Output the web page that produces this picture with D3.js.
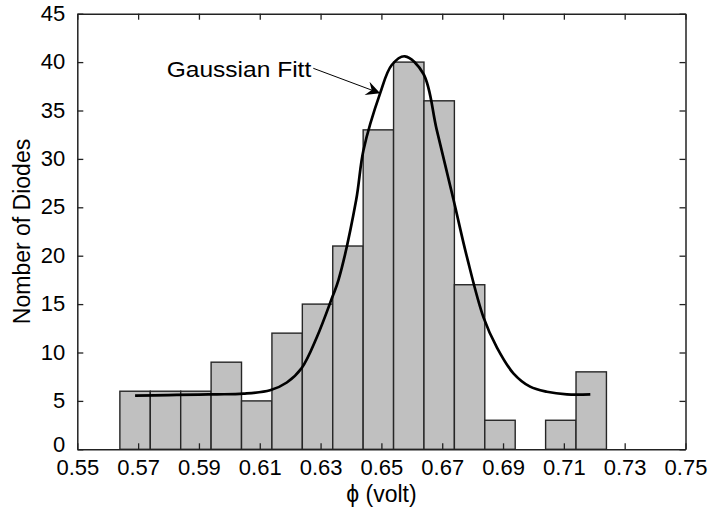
<!DOCTYPE html>
<html>
<head>
<meta charset="utf-8">
<script src="https://cdn.jsdelivr.net/npm/d3@7/dist/d3.min.js"></script>
<style>
  html, body { margin: 0; padding: 0; background: #fff; }
  svg { display: block; }
  text { font-family: "Liberation Sans", Arial, Helvetica, sans-serif; fill: #000; }
</style>
</head>
<body>
<svg id="chart" width="709" height="511"></svg>
<script>
// ---- data ----
const binStarts = [0.564, 0.574, 0.584, 0.594, 0.604, 0.614, 0.624, 0.634,
                   0.644, 0.654, 0.664, 0.674, 0.684, 0.694, 0.704, 0.714];
const binCounts = [6, 6, 6, 9, 5, 12, 15, 21, 33, 40, 36, 17, 3, 0, 3, 8];
const binWidth = 0.01;

const fitX = [0.569, 0.580, 0.590, 0.5959, 0.6046, 0.6134, 0.6189, 0.6238, 0.6288,
              0.6339, 0.6359, 0.6417, 0.6441, 0.6496, 0.6534, 0.6577, 0.6638,
              0.6682, 0.6737, 0.6781, 0.6836, 0.6880, 0.6934, 0.6989, 0.7044,
              0.7110, 0.7187];
const fitY = [5.55, 5.6, 5.65, 5.68, 5.75, 6.1, 6.9, 8.4, 11.6,
              15.76, 17.5, 25.75, 30.9, 36.8, 39.7, 40.6, 38.8,
              33.0, 25.8, 19.9, 13.6, 10.5, 7.85, 6.47, 5.95,
              5.68, 5.68];

const xTicks = [0.55, 0.57, 0.59, 0.61, 0.63, 0.65, 0.67, 0.69, 0.71, 0.73, 0.75];
const yTicks = [0, 5, 10, 15, 20, 25, 30, 35, 40, 45];

const annotationText = "Gaussian Fitt";
const annotationPos = [0.5794, 38.5];
const arrowFrom = [0.6276, 39.36];
const arrowTo = [0.6496, 36.78];

const xLabel = "\u03D5 (volt)";
const yLabel = "Nomber of Diodes";

// ---- layout ----
const W = 709, H = 511;
const margin = { left: 77.3, right: 23.5, top: 13.7, bottom: 61.7 };
const iw = W - margin.left - margin.right;
const ih = H - margin.top - margin.bottom;

const svg = d3.select("#chart");
const g = svg.append("g").attr("transform", `translate(${margin.left},${margin.top})`);

const x = d3.scaleLinear().domain([0.55, 0.75]).range([0, iw]);
const y = d3.scaleLinear().domain([0, 45]).range([ih, 0]);

// bars
g.selectAll("rect.bar")
  .data(binStarts.map((s, i) => ({ s, c: binCounts[i] })).filter(d => d.c > 0))
  .enter().append("rect")
  .attr("class", "bar")
  .attr("x", d => x(d.s))
  .attr("y", d => y(d.c))
  .attr("width", d => x(d.s + binWidth) - x(d.s))
  .attr("height", d => y(0) - y(d.c))
  .attr("fill", "#c0c0c0")
  .attr("stroke", "#262626")
  .attr("stroke-width", 1.4);

// gaussian fit
const line = d3.line()
  .x(d => x(d[0]))
  .y(d => y(d[1]))
  .curve(d3.curveCatmullRom.alpha(0.5));
g.append("path")
  .datum(fitX.map((v, i) => [v, fitY[i]]))
  .attr("d", line)
  .attr("fill", "none")
  .attr("stroke", "#000")
  .attr("stroke-width", 2.7)
  .attr("stroke-linejoin", "round");

// axes (MATLAB style: box with inward ticks)
const tickLen = 6;
const fontTick = 22;
const axBottom = g.append("g").attr("transform", `translate(0,${ih})`)
  .call(d3.axisBottom(x).tickValues(xTicks).tickFormat(d3.format(".2f"))
        .tickSizeInner(-tickLen).tickSizeOuter(0).tickPadding(tickLen + 4));
const axTop = g.append("g")
  .call(d3.axisTop(x).tickValues(xTicks).tickFormat("")
        .tickSizeInner(-tickLen).tickSizeOuter(0));
const axLeft = g.append("g")
  .call(d3.axisLeft(y).tickValues(yTicks).tickFormat(d3.format("d"))
        .tickSizeInner(-tickLen).tickSizeOuter(0).tickPadding(tickLen + 6));
const axRight = g.append("g").attr("transform", `translate(${iw},0)`)
  .call(d3.axisRight(y).tickValues(yTicks).tickFormat("")
        .tickSizeInner(-tickLen).tickSizeOuter(0));

[axBottom, axTop, axLeft, axRight].forEach(a => {
  a.select(".domain").attr("stroke", "#222").attr("stroke-width", 1.5);
  a.selectAll(".tick line").attr("stroke", "#222").attr("stroke-width", 1.3);
  a.selectAll("text").attr("font-size", fontTick)
    .attr("font-family", "Liberation Sans, Arial, sans-serif").attr("fill", "#000");
});
axBottom.selectAll("text").attr("dy", "0.71em");
axLeft.selectAll("text").attr("dy", "0.3em");
axLeft.selectAll(".tick text").filter(d => d === 0).attr("dy", "0.12em");

// axis labels
svg.append("text")
  .attr("x", margin.left + iw / 2)
  .attr("y", 502)
  .attr("text-anchor", "middle")
  .attr("font-size", 23)
  .text(xLabel);
svg.append("text")
  .attr("transform", `translate(30,${margin.top + ih / 2}) rotate(-90)`)
  .attr("text-anchor", "middle")
  .attr("font-size", 23)
  .text(yLabel);

// annotation
g.append("text")
  .attr("x", x(annotationPos[0]))
  .attr("y", y(annotationPos[1]))
  .attr("font-size", 22)
  .attr("textLength", x(arrowFrom[0]) - x(annotationPos[0]) - 2)
  .attr("lengthAdjust", "spacingAndGlyphs")
  .text(annotationText);

svg.append("defs").append("marker")
  .attr("id", "arrowhead")
  .attr("viewBox", "0 0 10 10")
  .attr("refX", 10).attr("refY", 5)
  .attr("markerWidth", 17).attr("markerHeight", 14)
  .attr("markerUnits", "userSpaceOnUse")
  .attr("orient", "auto")
  .append("path")
  .attr("d", "M0,0 L10,5 L0,10 L3.5,5 Z")
  .attr("fill", "#000");

g.append("line")
  .attr("x1", x(arrowFrom[0])).attr("y1", y(arrowFrom[1]))
  .attr("x2", x(arrowTo[0])).attr("y2", y(arrowTo[1]))
  .attr("stroke", "#000").attr("stroke-width", 1)
  .attr("marker-end", "url(#arrowhead)");
</script>
</body>
</html>
